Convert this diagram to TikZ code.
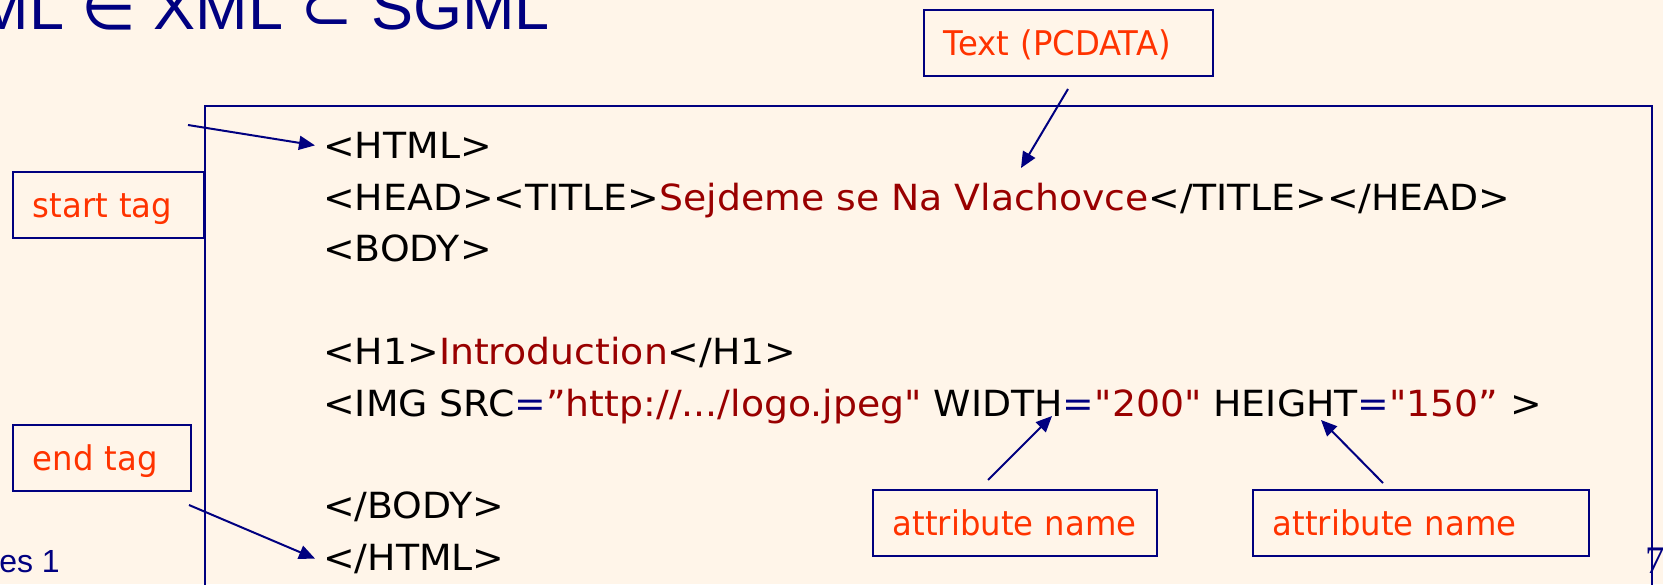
\documentclass[tikz,border=0pt]{standalone}
\usepackage{fontspec}
\usetikzlibrary{arrows.meta}
\setmainfont{DejaVu Sans}[FakeStretch=1.05,Ligatures=TeXOff]
\newfontfamily\labelfont{DejaVu Sans}[FakeStretch=0.95]
\newfontfamily\slidefont{Liberation Sans}
\newfontfamily\numfont{Liberation Serif}
\newfontfamily\relfont{DejaVu Sans}
\definecolor{slidebg}{HTML}{FFF5E9}
\definecolor{navy}{HTML}{000080}
\definecolor{labelred}{HTML}{FF3300}
\definecolor{valred}{HTML}{990000}
\newcommand{\attrval}[1]{\textcolor{valred}{#1}}
\newcommand{\attreq}{\textcolor{navy}{=}}

\begin{document}
\begin{tikzpicture}[x=1pt,y=-1pt,
  codeline/.style={anchor=base west,inner xsep=8pt,inner ysep=0pt,
    font=\fontsize{36}{40}\selectfont},
  tagbox/.style={draw=navy,line width=1.5pt,anchor=north west,align=left,
    inner xsep=20pt,inner ysep=0pt,minimum height=66pt,
    text height=27pt,text depth=2pt,text=labelred,
    font=\labelfont\fontsize{34}{38}\selectfont},
  pointer/.style={navy,line width=2pt,-{Triangle[length=16pt,width=14pt]}}]
\useasboundingbox (0,0) rectangle (1663,584);
\fill[slidebg] (0,0) rectangle (1663,584);

% slide title, footer and page number (cut by the page edge)
\node[anchor=base east,inner sep=0pt,text=navy,
  font=\slidefont\fontsize{63}{70}\selectfont] (slidetitle) at (550,29)
  {HTML {\relfont ∈} XML {\relfont ⊂} SGML};
\node[anchor=base east,inner sep=0pt,text=navy,
  font=\slidefont\fontsize{32}{36}\selectfont] (footer) at (60,572) {es 1};
\node[anchor=base west,inner sep=0pt,text=navy,
  font=\numfont\fontsize{39}{44}\selectfont] (pagenum) at (1645,573) {7};

% frame round the document
\draw[navy,line width=1.6pt] (205,590) -- (205,106) -- (1652,106) -- (1652,590);

% the HTML source
\node[codeline] (lhtml) at (315,158.5) {<HTML>};
\node[codeline] (lhead) at (315,210) {<HEAD><TITLE>\attrval{Sejdeme se Na Vlachovce}</TITLE></HEAD>};
\node[codeline] (lbody) at (315,261) {<BODY>};
\node[codeline] (lhone) at (315,364) {<H1>\attrval{Introduction}</H1>};
\node[codeline] (limg) at (315,416) {<IMG SRC\attreq\attrval{”http://.../logo.jpeg"} WIDTH\attreq\attrval{"200"} HEIGHT\attreq\attrval{"150”} >};
\node[codeline] (lbodyend) at (315,518) {</BODY>};
\node[codeline] (lhtmlend) at (315,570) {</HTML>};

% labels
\node[tagbox,text width=249pt] (pcdata) at (923,9) {\mbox{Text (PCDATA)}};
\node[tagbox,text width=151pt] (starttag) at (12,171) {\mbox{start tag}};
\node[tagbox,text width=138pt] (endtag) at (12,424) {\mbox{end tag}};
\node[tagbox,text width=244pt] (attrwidth) at (872,489) {\mbox{attribute name}};
\node[tagbox,text width=296pt] (attrheight) at (1252,489) {\mbox{attribute name}};

% arrow ends
\coordinate (starttail) at (188,125);
\coordinate (endtail) at (189,505);
\coordinate (pcdatatail) at (1068,89);
\coordinate (pcdatatip) at (1021,168);
\coordinate (widthtail) at (988,480);
\coordinate (widthtip) at (1052,416);
\coordinate (heighttail) at (1383,483);
\coordinate (heighttip) at (1321,420);

\draw[pointer] (starttail) -- (lhtml.west);
\draw[pointer] (endtail) -- (lhtmlend.west);
\draw[pointer] (pcdatatail) -- (pcdatatip);
\draw[pointer] (widthtail) -- (widthtip);
\draw[pointer] (heighttail) -- (heighttip);
\end{tikzpicture}
\end{document}
